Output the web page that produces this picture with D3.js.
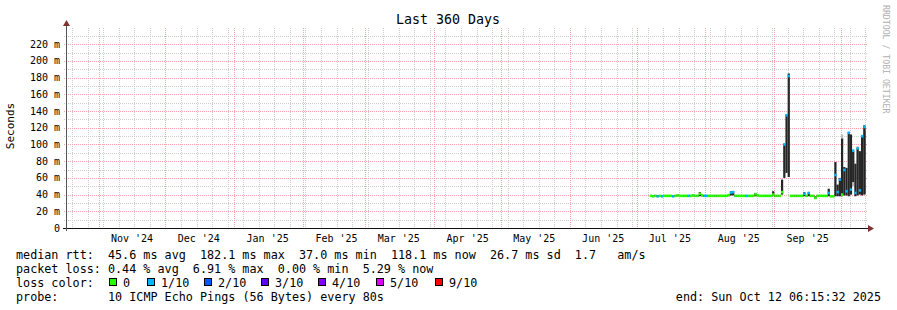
<!DOCTYPE html>
<html>
<head>
<meta charset="utf-8">
<script src="https://cdn.jsdelivr.net/npm/d3@7"></script>
<style>
  body { margin: 0; background: #fff; }
  text { font-family: "DejaVu Sans Mono", monospace; white-space: pre; }
</style>
</head>
<body>
<script>
// time window of the graph (360 days ending at the probe time)
const endTime = new Date(Date.UTC(2025, 9, 12, 6, 15, 32));
const startTime = d3.utcDay.offset(endTime, -360);

// daily samples, first sample at dataStart
const dataStart = new Date(Date.UTC(2025, 6, 7));
// median rtt in ms
const medianMs = [
  38.5, 38, 38.5, 38, 38.5, 38, 38.5, 38.5, 38.5, 38.5,
  38, 38.5, 39, 38.5, 38.5, 38.5, 38.5, 38.5, 38.5, 39,
  38.5, 38.5, 41, 39, 38.5, 38.5, 38.5, 38.5, 38.5, 38.5,
  38.5, 38.5, 38.5, 38.5, 38.5, 39.5, 42.5, 43, 38.5, 38.5,
  38.5, 38.5, 38.5, 38.5, 38.5, 38.5, 38.5, 40.5, 39, 38.5,
  38.5, 38.5, 38.5, 38.5, 38.5, 40, 38.5, 38.5, 38.5, 43,
  100, 135, 182, 38.5, 38.5, 38.5, 38.5, 38.5, 38.5, 41,
  38.5, 42, 38.5, 38.5, 36, 38.5, 38.5, 38.5, 38.5, 38.5,
  42, 38, 38, 63.5, 43, 58, 40, 69.5, 44, 114,
  46, 92.6, 42, 95.4, 45, 110, 121, 118
];
// smoke band (lowest / highest ping) in ms
const smokeLo = [
  37.5, 37, 37.5, 37, 37.5, 37, 37.5, 37.5, 37.5, 37.5,
  37, 37.5, 38, 37.5, 37.5, 37.5, 37.5, 37.5, 37.5, 38,
  37.5, 37.5, 38, 38, 37.5, 37.5, 37.5, 37.5, 37.5, 37.5,
  37.5, 37.5, 37.5, 37.5, 37.5, 38, 39, 39, 37.5, 37.5,
  37.5, 37.5, 37.5, 37.5, 37.5, 37.5, 37.5, 38, 38, 37.5,
  37.5, 37.5, 37.5, 37.5, 37.5, 38, 37.5, 37.5, 37.5, 40,
  60, 66, 61, 37.5, 37.5, 37.5, 37.5, 37.5, 37.5, 38,
  37.5, 38, 37.5, 37.5, 35, 37.5, 37.5, 37.5, 37.5, 37.5,
  38, 37, 37, 38, 38, 38, 38, 39, 39, 38,
  40, 55, 38, 39, 40, 39, 40, 41
];
const smokeHi = [
  39.5, 39.5, 39.5, 39.5, 39.5, 39.5, 39.5, 39.5, 39.5, 39.5,
  39.5, 39.5, 40, 39.5, 39.5, 39.5, 39.5, 39.5, 39.5, 40,
  39.5, 39.5, 43, 40, 39.5, 39.5, 39.5, 39.5, 39.5, 39.5,
  39.5, 39.5, 39.5, 39.5, 39.5, 40.5, 44, 44, 39.5, 39.5,
  39.5, 39.5, 39.5, 39.5, 39.5, 39.5, 39.5, 42, 40, 39.5,
  39.5, 39.5, 39.5, 39.5, 39.5, 44, 39.5, 39.5, 39.5, 58,
  101, 136, 185, 39.5, 39.5, 39.5, 39.5, 39.5, 39.5, 43,
  39.5, 43, 39.5, 39.5, 38, 39.5, 39.5, 39.5, 39.5, 39.5,
  47, 39, 39, 79, 52, 60, 107, 73, 72, 115,
  112, 92, 77, 96, 92, 111, 123, 120
];
// packet loss per sample, in tenths
const lossTenths = [
  0, 0, 0, 1, 0, 1, 0, 0, 0, 0,
  1, 0, 0, 0, 0, 0, 0, 1, 0, 0,
  0, 0, 0, 0, 1, 1, 0, 0, 0, 0,
  0, 0, 0, 0, 0, 0, 1, 1, 0, 0,
  0, 0, 0, 1, 0, 0, 0, 0, 0, 0,
  0, 0, 0, 0, 0, 0, 0, 0, 0, 0,
  1, 1, 1, 0, 0, 0, 0, 0, 0, 1,
  0, 1, 0, 0, 0, 0, 0, 0, 0, 0,
  1, 0, 0, 1, 1, 1, 0, 1, 1, 1,
  1, 1, 1, 1, 1, 1, 1, 1
];
// pale outer smoke: [sample index, low ms, high ms]
const hazeBands = [[86, 100, 112], [91, 50, 94], [93, 60, 98]];

const lossLevels = ['0', '1/10', '2/10', '3/10', '4/10', '5/10', '9/10'];
const lossColors = ['#26ff00', '#00b8ff', '#0059ff', '#5e00ff', '#7e00ff', '#dd00ff', '#ff0000'];

const yTicksMs = d3.range(0, 221, 20);
const yMinorMs = d3.range(10, 231, 20);

const legendLines = [
  'median rtt:  45.6 ms avg  182.1 ms max  37.0 ms min  118.1 ms now  26.7 ms sd  1.7   am/s',
  'packet loss: 0.44 % avg  6.91 % max  0.00 % min  5.29 % now'
];
const probeText = '10 ICMP Echo Pings (56 Bytes) every 80s';
const endText = 'end: Sun Oct 12 06:15:32 2025';

const width = 897, height = 310;
const plotLeft = 66, plotRight = 866, plotTop = 28, plotBottom = 228;
const charW = 7.08;
const gridColor = '#cdcdcd';
const mgridColor = '#f4a6a6';

const svg = d3.select('body').append('svg')
    .attr('width', width)
    .attr('height', height);

const x = d3.scaleUtc().domain([startTime, endTime]).range([plotLeft, plotRight]);
const y = d3.scaleLinear().domain([0, 239.5]).range([plotBottom, plotTop]);

// dotted patterns for the grid: one pixel on, one off
const defs = svg.append('defs');
[['hGrid', 2, 1, gridColor], ['vGrid', 1, 2, gridColor],
 ['hMgrid', 2, 1, mgridColor], ['vMgrid', 1, 2, mgridColor]].forEach(p => {
  defs.append('pattern')
      .attr('id', p[0])
      .attr('patternUnits', 'userSpaceOnUse')
      .attr('width', p[1]).attr('height', p[2])
    .append('rect')
      .attr('width', 1).attr('height', 1)
      .attr('fill', p[3]);
});

// title
svg.append('text')
    .attr('x', 448).attr('y', 24)
    .attr('text-anchor', 'middle')
    .style('font-size', '13.3px')
    .text('Last 360 Days');

// vertical axis label
svg.append('text')
    .attr('transform', 'translate(14,126) rotate(-90)')
    .attr('text-anchor', 'middle')
    .style('font-size', '11px')
    .text('Seconds');

// watermark
svg.append('text')
    .attr('transform', 'translate(883,5) rotate(90)')
    .style('font-size', '8.2px')
    .attr('fill', '#b0b0b0')
    .text('RRDTOOL / TOBI OETIKER');

const grid = svg.append('g').attr('shape-rendering', 'crispEdges');

function vLines(cls, dates, fill) {
  grid.selectAll('rect.' + cls)
    .data(dates)
    .enter().append('rect')
      .attr('class', cls)
      .attr('x', d => Math.round(x(d)))
      .attr('y', plotTop - 1)
      .attr('width', 1)
      .attr('height', plotBottom - plotTop + 1)
      .attr('fill', fill);
}
function hLines(cls, values, fill) {
  grid.selectAll('rect.' + cls)
    .data(values)
    .enter().append('rect')
      .attr('class', cls)
      .attr('x', plotLeft - 3)
      .attr('y', d => Math.round(y(d)))
      .attr('width', plotRight - plotLeft + 5)
      .attr('height', 1)
      .attr('fill', fill);
}

vLines('week', d3.utcSunday.range(startTime, endTime), 'url(#vGrid)');
hLines('hmin', yMinorMs, 'url(#hGrid)');
vLines('month', d3.utcMonth.range(startTime, endTime), 'url(#vMgrid)');
hLines('hmaj', yTicksMs.slice(1), 'url(#hMgrid)');

// y labels
svg.selectAll('text.ylab')
  .data(yTicksMs)
  .enter().append('text')
    .attr('class', 'ylab')
    .attr('x', 60)
    .attr('y', d => y(d) + 3.5)
    .attr('text-anchor', 'end')
    .style('font-size', '10px')
    .text(d => d === 0 ? '0' : d + ' m');

// month labels, centered half a month after the month start
const fmt = d3.utcFormat("%b '%y");
svg.selectAll('text.xlab')
  .data(d3.utcMonth.range(d3.utcMonth.floor(startTime), endTime)
        .map(d => d3.utcDay.offset(d, 15))
        .filter(d => d > startTime && d < endTime))
  .enter().append('text')
    .attr('class', 'xlab')
    .attr('x', d => x(d))
    .attr('y', 242)
    .attr('text-anchor', 'middle')
    .style('font-size', '10px')
    .text(d => fmt(d3.utcMonth.floor(d)));

// samples
const samples = medianMs.map((m, i) => ({
  t0: d3.utcDay.offset(dataStart, i),
  t1: d3.min([d3.utcDay.offset(dataStart, i + 1), endTime]),
  median: m,
  lo: smokeLo[i],
  hi: smokeHi[i],
  loss: lossTenths[i]
}));

const plot = svg.append('g');

// pale smoke
plot.selectAll('rect.haze')
  .data(hazeBands)
  .enter().append('rect')
    .attr('class', 'haze')
    .attr('x', d => x(samples[d[0]].t0))
    .attr('width', d => x(samples[d[0]].t1) - x(samples[d[0]].t0))
    .attr('y', d => y(d[2]))
    .attr('height', d => y(d[1]) - y(d[2]))
    .attr('fill', '#bdbdbd');

// smoke
plot.selectAll('rect.smoke')
  .data(samples)
  .enter().append('rect')
    .attr('class', 'smoke')
    .attr('x', d => x(d.t0))
    .attr('width', d => x(d.t1) - x(d.t0))
    .attr('y', d => y(d.hi))
    .attr('height', d => y(d.lo) - y(d.hi))
    .attr('fill', '#262626');

// median, coloured by loss
plot.selectAll('rect.median')
  .data(samples)
  .enter().append('rect')
    .attr('class', 'median')
    .attr('x', d => x(d.t0))
    .attr('width', d => x(d.t1) - x(d.t0))
    .attr('y', d => y(d.median) - 1.3)
    .attr('height', 2.6)
    .attr('fill', d => lossColors[Math.min(d.loss, 6)]);

// axes
const axes = svg.append('g').attr('shape-rendering', 'crispEdges');
axes.append('line')
    .attr('x1', plotLeft - 3).attr('x2', plotRight + 2)
    .attr('y1', plotBottom + 0.5).attr('y2', plotBottom + 0.5)
    .attr('stroke', '#111');
axes.append('line')
    .attr('x1', plotLeft + 0.5).attr('x2', plotLeft + 0.5)
    .attr('y1', plotBottom + 3).attr('y2', plotTop - 4)
    .attr('stroke', '#555');
svg.append('path')
    .attr('d', `M${plotRight + 2},${plotBottom - 3} L${plotRight + 8},${plotBottom + 0.5} L${plotRight + 2},${plotBottom + 4} Z`)
    .attr('fill', '#803333');
svg.append('path')
    .attr('d', `M${plotLeft - 3},${plotTop - 2} L${plotLeft + 0.5},${plotTop - 8} L${plotLeft + 4},${plotTop - 2} Z`)
    .attr('fill', '#803333');

// legend
const legY = [259, 272.5, 286.5, 300.5];
legendLines.forEach((s, i) => {
  svg.append('text')
      .attr('x', 16).attr('y', legY[i])
      .style('font-size', '11.76px')
      .text(s);
});

svg.append('text')
    .attr('x', 16).attr('y', legY[2])
    .style('font-size', '11.76px')
    .text('loss color:');

const swatchX = [109, 147, 204, 261, 318, 376, 435];
const sw = svg.selectAll('g.sw')
  .data(lossLevels)
  .enter().append('g')
    .attr('class', 'sw')
    .attr('transform', (d, i) => `translate(${swatchX[i]},${legY[2] - 8.5})`);
sw.append('rect')
    .attr('width', 7).attr('height', 7)
    .attr('x', 0.5).attr('y', 0.5)
    .attr('fill', (d, i) => lossColors[i])
    .attr('stroke', '#000')
    .attr('shape-rendering', 'crispEdges');
sw.append('text')
    .attr('x', 14).attr('y', 8.5)
    .style('font-size', '11.76px')
    .text(d => d);

svg.append('text')
    .attr('x', 16).attr('y', legY[3])
    .style('font-size', '11.76px')
    .text('probe:');
svg.append('text')
    .attr('x', 16 + 13 * charW).attr('y', legY[3])
    .style('font-size', '11.76px')
    .text(probeText);
svg.append('text')
    .attr('x', 881).attr('y', legY[3])
    .attr('text-anchor', 'end')
    .style('font-size', '11.76px')
    .text(endText);
</script>
</body>
</html>
